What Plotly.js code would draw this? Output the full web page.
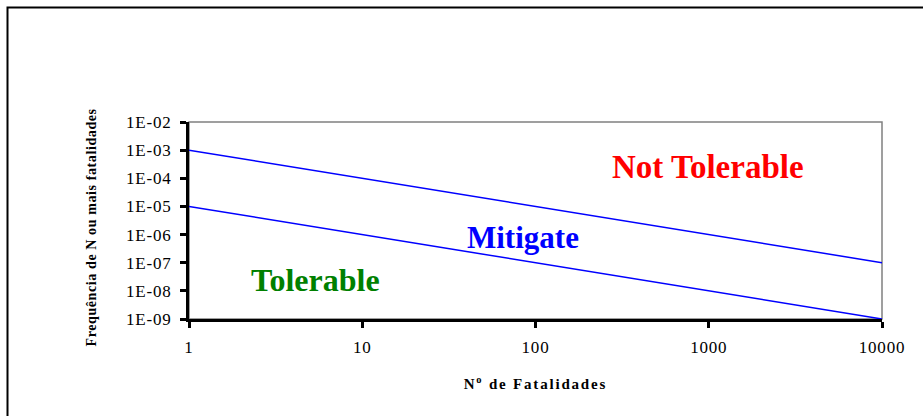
<!DOCTYPE html>
<html>
<head>
<meta charset="utf-8">
<script src="https://cdn.plot.ly/plotly-3.0.1.min.js"></script>
<style>
  html, body { margin: 0; padding: 0; background: #fff; }
  #chart { width: 923px; height: 416px; }
  .xtick text, .ytick text { letter-spacing: 0.8px; }
  .annotation-text.xt { letter-spacing: 1.8px; }
</style>
</head>
<body>
<div id="chart"></div>
<script>
// Data
const nFatalities = [1, 10000];
const upperLimit = [1e-3, 1e-7];
const lowerLimit = [1e-5, 1e-9];
const xTickVals = [1, 10, 100, 1000, 10000];
const xTickText = ['1', '10', '100', '1000', '10000'];
const yTickVals = [1e-9, 1e-8, 1e-7, 1e-6, 1e-5, 1e-4, 1e-3, 1e-2];
const yTickText = ['1E-09', '1E-08', '1E-07', '1E-06', '1E-05', '1E-04', '1E-03', '1E-02'];
const regionLabels = ['Not Tolerable', 'Mitigate', 'Tolerable'];
const regionX = [984, 84.7, 5.34];
const regionY = [2.6e-4, 7.9e-7, 2.45e-8];
const regionColors = ['#FF0000', '#0000FF', '#008000'];
const xTitle = 'N<sup>o</sup> de Fatalidades';
const yTitle = 'Frequência de N ou mais fatalidades';

const serif = 'Liberation Serif, Times New Roman, serif';

const traces = [
  { x: nFatalities, y: upperLimit, mode: 'lines', line: { color: '#0000FF', width: 1.5 }, hoverinfo: 'skip', showlegend: false },
  { x: nFatalities, y: lowerLimit, mode: 'lines', line: { color: '#0000FF', width: 1.5 }, hoverinfo: 'skip', showlegend: false }
];

const annotations = regionLabels.map((t, i) => ({
  x: Math.log10(regionX[i]), y: Math.log10(regionY[i]), xref: 'x', yref: 'y',
  text: '<b>' + t + '</b>', showarrow: false,
  xanchor: 'center', yanchor: 'middle',
  font: { family: serif, size: [33, 31, 32][i], color: regionColors[i] }
}));
annotations.push({
  x: 0.5, y: (319 - 383) / 197, xref: 'paper', yref: 'paper',
  text: '<b>' + xTitle + '</b>', showarrow: false, xanchor: 'center', yanchor: 'middle',
  font: { family: serif, size: 15, color: '#000' }
});
annotations.push({
  x: (91 - 189) / 693, y: (319 - 227) / 197, xref: 'paper', yref: 'paper',
  text: '<b>' + yTitle + '</b>', showarrow: false, xanchor: 'center', yanchor: 'middle',
  textangle: -90,
  font: { family: serif, size: 14, color: '#000' }
});

const layout = {
  width: 923, height: 416,
  margin: { l: 189, r: 41, t: 122, b: 97 },
  paper_bgcolor: '#ffffff', plot_bgcolor: '#ffffff',
  showlegend: false,
  xaxis: {
    type: 'log', range: [0, 4],
    tickvals: xTickVals, ticktext: xTickText,
    ticks: 'outside', ticklen: 6, tickwidth: 3, tickcolor: '#000',
    showline: true, linewidth: 3, linecolor: '#000',
    showgrid: false, zeroline: false, ticklabelstandoff: 5,
    tickfont: { family: serif, size: 17, color: '#000' }
  },
  yaxis: {
    type: 'log', range: [-9, -2],
    tickvals: yTickVals, ticktext: yTickText,
    ticks: 'outside', ticklen: 6, tickwidth: 3, tickcolor: '#000',
    showline: true, linewidth: 3, linecolor: '#000',
    showgrid: false, zeroline: false, ticklabelstandoff: 5,
    tickfont: { family: serif, size: 17, color: '#000' }
  },
  shapes: [
    { type: 'rect', xref: 'paper', yref: 'paper', x0: 0, x1: 1, y0: 0, y1: 1,
      line: { color: '#808080', width: 1.5 }, layer: 'below' },
    { type: 'rect', xref: 'paper', yref: 'paper', x0: (7.5 - 189) / 693, x1: (926 - 189) / 693,
      y0: (319 - 420) / 197, y1: (319 - 7.5) / 197,
      line: { color: '#000', width: 2 }, layer: 'above' }
  ],
  annotations: annotations
};

Plotly.newPlot('chart', traces, layout, { displayModeBar: false, staticPlot: true }).then(() => {
  const anns = document.querySelectorAll('.annotation-text');
  if (anns.length >= 4) anns[3].style.letterSpacing = '1.8px';
  if (anns.length >= 5) anns[4].style.letterSpacing = '0.6px';
});
</script>
</body>
</html>
